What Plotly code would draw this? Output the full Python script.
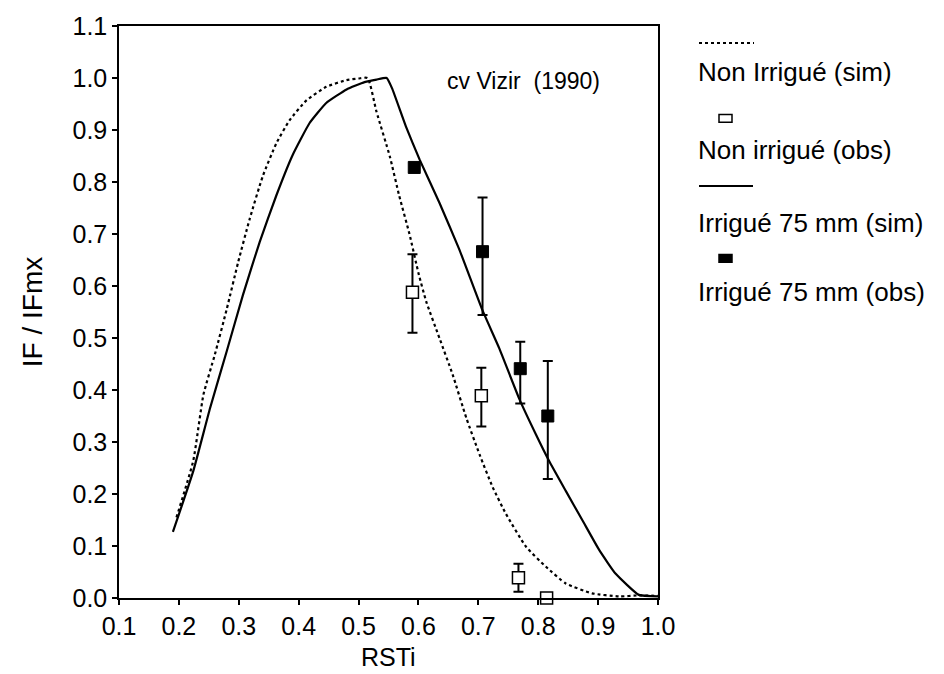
import plotly.graph_objects as go

# ---- data ----
nonirr_sim_x = [0.196, 0.224, 0.241, 0.260, 0.280, 0.299, 0.318, 0.340, 0.363, 0.385, 0.413, 0.446,
                0.480, 0.500, 0.515, 0.530, 0.552, 0.568, 0.585, 0.600, 0.613, 0.635, 0.657, 0.680,
                0.702, 0.724, 0.746, 0.780, 0.813, 0.846, 0.890, 0.935, 0.968, 1.000]
nonirr_sim_y = [0.155, 0.264, 0.391, 0.468, 0.556, 0.646, 0.728, 0.811, 0.875, 0.919, 0.957, 0.983,
                0.996, 0.999, 1.000, 0.935, 0.850, 0.773, 0.700, 0.625, 0.570, 0.500, 0.430, 0.346,
                0.276, 0.213, 0.162, 0.098, 0.060, 0.028, 0.009, 0.003, 0.005, 0.004]

irr_sim_x = [0.190, 0.224, 0.252, 0.280, 0.307, 0.335, 0.363, 0.390, 0.418, 0.446, 0.480, 0.510,
             0.530, 0.547, 0.556, 0.579, 0.602, 0.635, 0.668, 0.707, 0.735, 0.768, 0.796, 0.818,
             0.846, 0.874, 0.902, 0.929, 0.968, 1.000]
irr_sim_y = [0.127, 0.244, 0.365, 0.475, 0.583, 0.685, 0.775, 0.852, 0.913, 0.952, 0.978, 0.992,
             0.997, 1.000, 0.980, 0.907, 0.843, 0.760, 0.671, 0.553, 0.480, 0.384, 0.315, 0.264,
             0.206, 0.149, 0.092, 0.047, 0.006, 0.003]

nonirr_obs_x = [0.590, 0.705, 0.767, 0.814]
nonirr_obs_y = [0.588, 0.389, 0.039, 0.000]
nonirr_err_plus = [0.073, 0.054, 0.027, 0.0]
nonirr_err_minus = [0.078, 0.059, 0.027, 0.0]

irr_obs_x = [0.593, 0.707, 0.770, 0.816]
irr_obs_y = [0.828, 0.666, 0.441, 0.350]
irr_err_plus = [0.0, 0.104, 0.052, 0.106]
irr_err_minus = [0.0, 0.122, 0.067, 0.121]

legend_labels = ["Non Irrigué (sim)", "Non irrigué (obs)", "Irrigué 75 mm (sim)", "Irrigué 75 mm (obs)"]
annotation_text = "cv Vizir  (1990)"
x_title = "RSTi"
y_title = "IF / IFmx"

FONT = "Liberation Sans, Arial, sans-serif"

fig = go.Figure()
fig.add_trace(go.Scatter(x=nonirr_sim_x, y=nonirr_sim_y, mode="lines",
                         line=dict(color="black", width=2.2, dash="dot", shape="spline", smoothing=0.5),
                         showlegend=False, name=legend_labels[0]))
fig.add_trace(go.Scatter(x=irr_sim_x, y=irr_sim_y, mode="lines",
                         line=dict(color="black", width=2.2, shape="spline", smoothing=0.4),
                         showlegend=False, name=legend_labels[2]))
fig.add_trace(go.Scatter(x=nonirr_obs_x, y=nonirr_obs_y, mode="markers",
                         marker=dict(symbol="square", size=12, color="white",
                                     line=dict(color="black", width=1.5)),
                         error_y=dict(type="data", symmetric=False, array=nonirr_err_plus,
                                      arrayminus=nonirr_err_minus, color="black", thickness=2, width=5),
                         cliponaxis=False, showlegend=False, name=legend_labels[1]))
fig.add_trace(go.Scatter(x=irr_obs_x, y=irr_obs_y, mode="markers",
                         marker=dict(symbol="square", size=12, color="black",
                                     line=dict(color="black", width=1)),
                         error_y=dict(type="data", symmetric=False, array=irr_err_plus,
                                      arrayminus=irr_err_minus, color="black", thickness=2, width=5),
                         cliponaxis=False, showlegend=False, name=legend_labels[3]))

# plot area in pixels
L, R, T, B = 119, 658, 22, 598
W, H = 944, 674


def px(xp):
    return (xp - L) / (R - L)


def py(yp):
    return (B - yp) / (B - T)


axis_common = dict(showline=True, linecolor="black", linewidth=1.5, mirror=True,
                   ticks="outside", ticklen=5, tickwidth=1.5, tickcolor="black",
                   showgrid=False, zeroline=False, tickformat=".1f",
                   tickfont=dict(family=FONT, size=25, color="black"))

fig.update_layout(
    width=W, height=H,
    margin=dict(l=L, r=W - R, t=T, b=H - B),
    paper_bgcolor="white", plot_bgcolor="white",
    font=dict(family=FONT, color="black"),
    xaxis=dict(range=[0.1, 1.0], dtick=0.1, tick0=0.1, **axis_common),
    yaxis=dict(range=[0.0, 1.1], dtick=0.1, tick0=0.0,
               title=dict(text=y_title, font=dict(family=FONT, size=28), standoff=22),
               **axis_common),
    showlegend=False,
)

# x-axis title as an annotation so it stays inside the picture
fig.add_annotation(x=0.5, y=0, xref="paper", yref="paper", yshift=-(H - B) + 1,
                   text=x_title, showarrow=False,
                   xanchor="center", yanchor="bottom", font=dict(family=FONT, size=25, color="black"))

fig.add_annotation(x=0.645, y=0.995, xref="x", yref="y", text=annotation_text, showarrow=False,
                   xanchor="left", yanchor="middle", font=dict(family=FONT, size=23))

# manual legend (sample above label, like the reference)
lx = 699
rows = [39, 68, 115, 147, 183, 220, 256, 290]
fig.add_shape(type="line", xref="paper", yref="paper", x0=px(lx), x1=px(lx + 55), y0=py(rows[0]), y1=py(rows[0]),
              line=dict(color="black", width=2, dash="dot"))
fig.add_shape(type="line", xref="paper", yref="paper", x0=px(lx), x1=px(lx + 54), y0=py(rows[4]), y1=py(rows[4]),
              line=dict(color="black", width=2))
for r, fill in ((rows[2], "white"), (rows[6], "black")):
    fig.add_shape(type="rect", xref="paper", yref="paper", x0=px(lx + 20), x1=px(lx + 33),
                  y0=py(r + 4), y1=py(r - 4), fillcolor=fill, line=dict(color="black", width=1.5))
for i, lab in enumerate(legend_labels):
    fig.add_annotation(x=px(lx - 3), y=py(rows[2 * i + 1]), xref="paper", yref="paper", text=lab,
                       showarrow=False, xanchor="left", yanchor="middle",
                       font=dict(family=FONT, size=26, color="black"))

fig.write_html("out.html", config={"displayModeBar": False},
               post_script="document.body.style.margin='0px';")
